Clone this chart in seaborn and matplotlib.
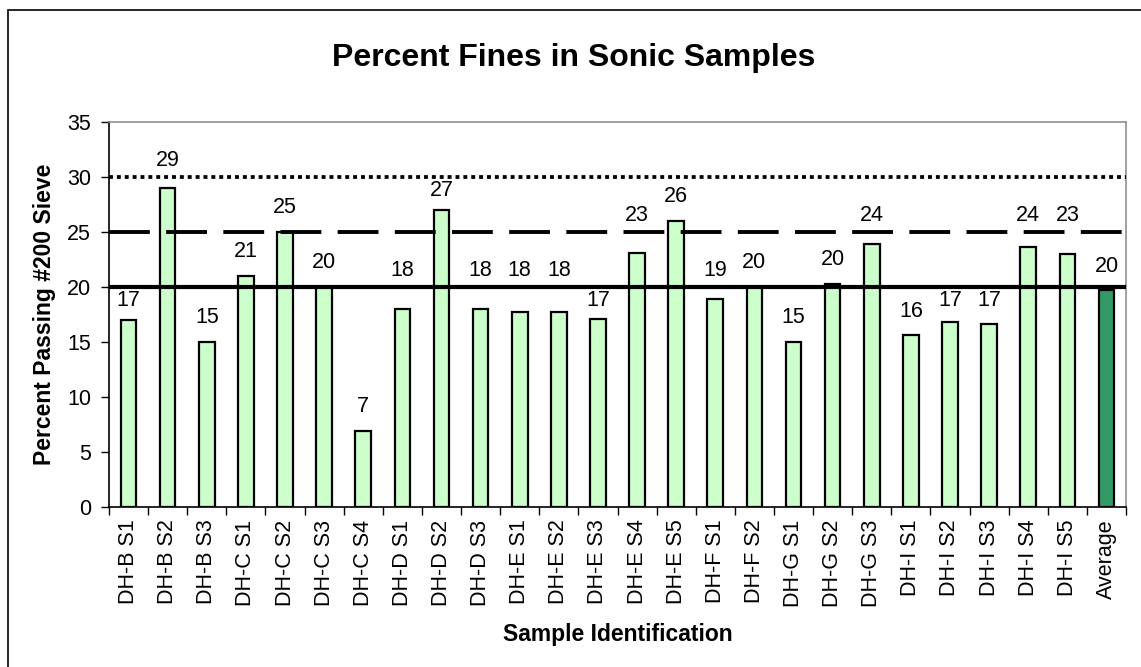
import matplotlib
matplotlib.use("Agg")
import matplotlib.pyplot as plt
from matplotlib.patches import Rectangle
import pandas as pd
import seaborn as sns

# Percent passing the #200 sieve for each sonic sample, plus the overall average
samples = ["DH-B S1", "DH-B S2", "DH-B S3", "DH-C S1", "DH-C S2", "DH-C S3",
           "DH-C S4", "DH-D S1", "DH-D S2", "DH-D S3", "DH-E S1", "DH-E S2",
           "DH-E S3", "DH-E S4", "DH-E S5", "DH-F S1", "DH-F S2", "DH-G S1",
           "DH-G S2", "DH-G S3", "DH-I S1", "DH-I S2", "DH-I S3", "DH-I S4",
           "DH-I S5", "Average"]
percent_fines = [17.0, 29.0, 15.0, 21.0, 25.0, 20.0,
                 6.9, 18.0, 27.0, 18.0, 17.7, 17.7,
                 17.1, 23.1, 26.0, 18.9, 20.0, 15.0,
                 20.3, 23.9, 15.6, 16.8, 16.6, 23.6,
                 23.0, 19.7]
kinds = ["Sample"] * 25 + ["Average"]

# Reference levels (solid, dashed, dotted)
limit_solid = 20
limit_dashed = 25
limit_dotted = 30

y_ticks = [0, 5, 10, 15, 20, 25, 30, 35]

df = pd.DataFrame({"sample": samples, "fines": percent_fines, "kind": kinds})

sns.set_theme(style="ticks")
plt.rcParams["font.family"] = ["Liberation Sans", "DejaVu Sans"]
plt.rcParams.update({"text.color": "black", "axes.labelcolor": "black",
                     "xtick.color": "black", "ytick.color": "black"})

fig = plt.figure(figsize=(11.41, 6.67), dpi=100)
ax = fig.add_axes([109 / 1141, 1 - 507 / 667, (1126 - 109) / 1141, (507 - 122) / 667])

sns.barplot(data=df, x="sample", y="fines", hue="kind",
            palette={"Sample": "#CCFFCC", "Average": "#339966"},
            saturation=1, dodge=False, width=0.4, edgecolor="black",
            linewidth=1.6, legend=False, ax=ax, zorder=2)

# Reference lines drawn on top of the bars
ref_levels = [limit_solid, limit_dashed, limit_dotted]
ax.axhline(limit_solid, color="black", lw=3.0, zorder=3)
ax.axhline(limit_dashed, color="black", lw=2.8, linestyle=(0, (10.5, 4.2)), zorder=3)
ax.axhline(limit_dotted, color="black", lw=2.7, linestyle=(0, (1.05, 1.05)), zorder=3)

# Value labels: sit above each bar, but step clear of any reference line
above_bar, clearance, below_line, above_line, min_gap = 2.2, 1.3, 1.2, 1.5, 1.3
for i, v in enumerate(percent_fines):
    y = v + above_bar
    for level in ref_levels:
        if abs(y - level) < clearance:
            if level - below_line >= v + min_gap:
                y = level - below_line
            else:
                y = level + above_line
    ax.text(i, y, f"{v:.0f}", ha="center", va="center", fontsize=15.5,
            color="black", zorder=4)

n = len(samples)
ax.set_xlim(-0.5, n - 0.5)
ax.set_ylim(0, 35)
ax.set_yticks(y_ticks)
ax.tick_params(axis="y", direction="out", length=6, width=1, labelsize=15.5, pad=7)
ax.set_xticks(range(n))
ax.set_xticklabels(samples, rotation=90, fontsize=15.5)
ax.tick_params(axis="x", which="major", length=0, pad=9)
ax.set_xticks([i - 0.5 for i in range(n + 1)], minor=True)
ax.tick_params(axis="x", which="minor", direction="out", length=6, width=1)

for side in ("left", "bottom"):
    ax.spines[side].set_color("black")
    ax.spines[side].set_linewidth(1.2)
for side in ("top", "right"):
    ax.spines[side].set_visible(True)
    ax.spines[side].set_color("#909090")
    ax.spines[side].set_linewidth(1.2)

ax.set_xlabel("Sample Identification", fontsize=16.5, fontweight="bold", va="center")
ax.set_ylabel("Percent Passing #200 Sieve", fontsize=16.5, fontweight="bold", va="center")
ax.xaxis.set_label_coords(0.5, (507 - 634) / 385)
ax.yaxis.set_label_coords((45 - 109) / 1017, 0.5)

fig.text(574 / 1141, 1 - 58 / 667, "Percent Fines in Sonic Samples",
         ha="center", va="center", fontsize=23, fontweight="bold")

# Chart frame
fig.patches.append(Rectangle((8 / 1141, -0.2), 1.2, 1 - 10 / 667 + 0.2,
                             transform=fig.transFigure, fill=False,
                             edgecolor="black", linewidth=1.2))

fig.savefig("out.png", dpi=100)
